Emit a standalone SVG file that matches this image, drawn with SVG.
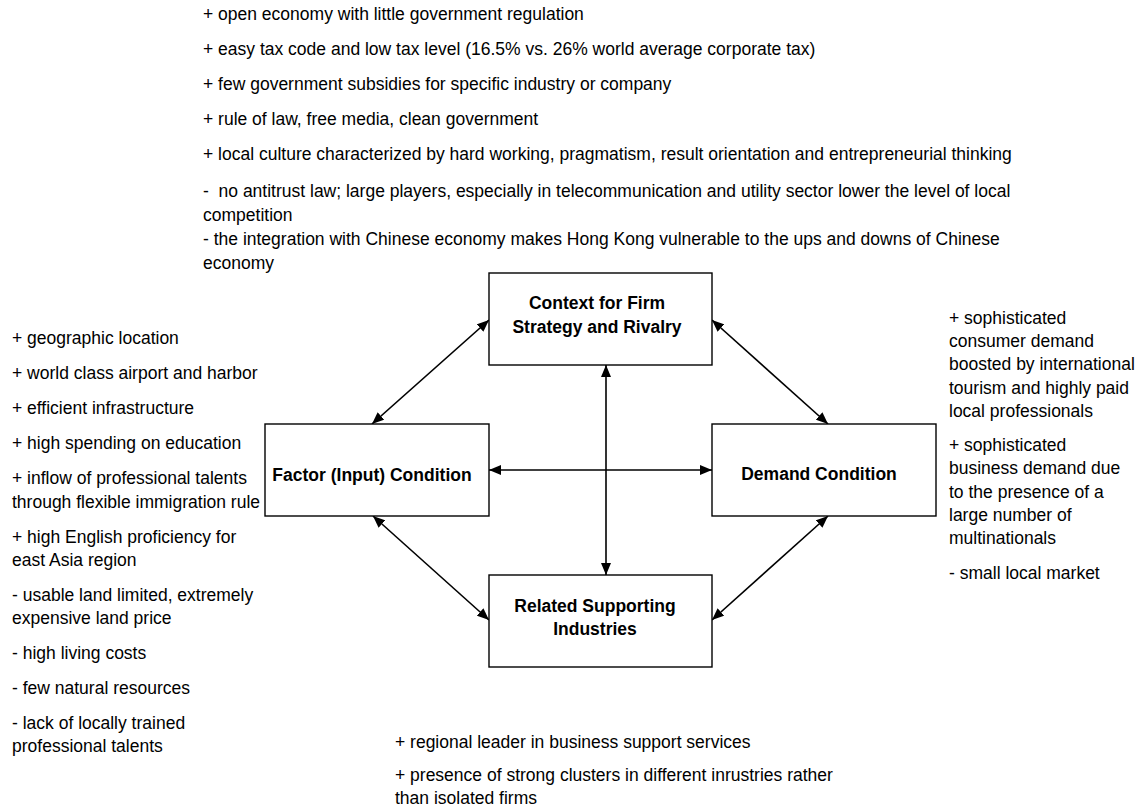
<svg xmlns="http://www.w3.org/2000/svg" width="1139" height="811" viewBox="0 0 1139 811">
<style>
  text { font-family: "Liberation Sans", Arial, sans-serif; font-size: 17.5px; fill: #000; }
  .lbl { font-weight: bold; text-anchor: middle; }
  .pre { white-space: pre; }
  .box { fill: #fff; stroke: #000; stroke-width: 1.4; }
  .conn { stroke: #000; stroke-width: 1.6; fill: none; marker-start: url(#ah); marker-end: url(#ah); }
</style>
<defs>
  <marker id="ah" viewBox="0 0 12 10" refX="12" refY="5" markerWidth="12" markerHeight="10" markerUnits="userSpaceOnUse" orient="auto-start-reverse">
    <path d="M0,0 L12,5 L0,10 Z" fill="#000"/>
  </marker>
</defs>
<rect width="1139" height="811" fill="#fff"/>

<g id="connectors">
  <line class="conn" x1="489" y1="470" x2="712" y2="470"/>
  <line class="conn" x1="606" y1="365" x2="606" y2="575"/>
  <line class="conn" x1="372" y1="424" x2="489" y2="320"/>
  <line class="conn" x1="373" y1="516" x2="489" y2="620"/>
  <line class="conn" x1="712" y1="320" x2="828" y2="424"/>
  <line class="conn" x1="828" y1="516" x2="712" y2="620"/>
</g>

<g id="node-context">
  <rect class="box" x="489" y="273" width="223" height="92"/>
  <text class="lbl" x="597" y="309">Context for Firm</text>
  <text class="lbl" x="597" y="333">Strategy and Rivalry</text>
</g>
<g id="node-factor">
  <rect class="box" x="265" y="424" width="224" height="92"/>
  <text class="lbl" x="372" y="481">Factor (Input) Condition</text>
</g>
<g id="node-demand">
  <rect class="box" x="712" y="424" width="224" height="92"/>
  <text class="lbl" x="819" y="480">Demand Condition</text>
</g>
<g id="node-related">
  <rect class="box" x="489" y="575" width="223" height="92"/>
  <text class="lbl" x="595" y="612">Related Supporting</text>
  <text class="lbl" x="595" y="635">Industries</text>
</g>

<g id="notes-top">
  <text x="203" y="20">+ open economy with little government regulation</text>
  <text x="203" y="55">+ easy tax code and low tax level (16.5% vs. 26% world average corporate tax)</text>
  <text x="203" y="90">+ few government subsidies for specific industry or company</text>
  <text x="203" y="125">+ rule of law, free media, clean government</text>
  <text x="203" y="160">+ local culture characterized by hard working, pragmatism, result orientation and entrepreneurial thinking</text>
  <text class="pre" x="203" y="197">-  no antitrust law; large players, especially in telecommunication and utility sector lower the level of local</text>
  <text x="203" y="221">competition</text>
  <text x="203" y="245">- the integration with Chinese economy makes Hong Kong vulnerable to the ups and downs of Chinese</text>
  <text x="203" y="269">economy</text>
</g>

<g id="notes-left">
  <text x="12" y="344">+ geographic location</text>
  <text x="12" y="379">+ world class airport and harbor</text>
  <text x="12" y="414">+ efficient infrastructure</text>
  <text x="12" y="449">+ high spending on education</text>
  <text x="12" y="484">+ inflow of professional talents</text>
  <text x="12" y="508">through flexible immigration rule</text>
  <text x="12" y="543">+ high English proficiency for</text>
  <text x="12" y="566">east Asia region</text>
  <text x="12" y="601">- usable land limited, extremely</text>
  <text x="12" y="624">expensive land price</text>
  <text x="12" y="659">- high living costs</text>
  <text x="12" y="694">- few natural resources</text>
  <text x="12" y="729">- lack of locally trained</text>
  <text x="12" y="752">professional talents</text>
</g>

<g id="notes-right">
  <text x="949" y="324">+ sophisticated</text>
  <text x="949" y="347">consumer demand</text>
  <text x="949" y="370">boosted by international</text>
  <text x="949" y="394">tourism and highly paid</text>
  <text x="949" y="417">local professionals</text>
  <text x="949" y="451">+ sophisticated</text>
  <text x="949" y="474">business demand due</text>
  <text x="949" y="498">to the presence of a</text>
  <text x="949" y="521">large number of</text>
  <text x="949" y="544">multinationals</text>
  <text x="949" y="579">- small local market</text>
</g>

<g id="notes-bottom">
  <text x="395" y="748">+ regional leader in business support services</text>
  <text x="395" y="781">+ presence of strong clusters in different inrustries rather</text>
  <text x="395" y="804">than isolated firms</text>
</g>
</svg>
